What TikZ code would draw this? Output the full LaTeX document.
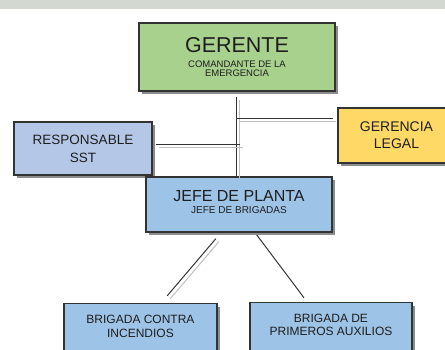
\documentclass[tikz,border=0pt]{standalone}
\usepackage{fontspec}
\setmainfont{Liberation Sans}
\usetikzlibrary{calc,shadows}
\definecolor{gerentegreen}{HTML}{A9D18E}
\definecolor{legalyellow}{HTML}{FFD966}
\definecolor{sstlavender}{HTML}{B4C7E7}
\definecolor{plantablue}{HTML}{9DC3E6}
\definecolor{edge}{HTML}{333333}
\definecolor{shade}{HTML}{8C8C8C}
\definecolor{linkshade}{HTML}{BFBFBF}
\definecolor{watermark}{HTML}{D3D9D0}
\definecolor{ink}{HTML}{1E1E1E}
\newcommand{\fsz}[1]{\fontsize{#1}{1.15\dimexpr #1pt\relax}\selectfont}

\begin{document}
\begin{tikzpicture}[
  x=1pt, y=-1pt, text=ink,
  box/.style={draw=edge, line width=1.2pt, inner sep=0pt, align=center,
    drop shadow={shadow xshift=3pt, shadow yshift=-3pt, fill=shade, opacity=1}},
  topbox/.style={box, anchor=north, inner ysep=12pt, text depth=40pt},
  link/.style={draw=edge, line width=1pt},
  shadedlink/.style={link, preaction={draw=linkshade, line width=1pt,
    transform canvas={xshift=3pt, yshift=-3pt}}}
]
  \useasboundingbox (0,0) rectangle (445,349);
  \fill[watermark] (0,0) rectangle (445,9);

  \node[box, fill=gerentegreen, minimum width=196, minimum height=68, font=\fsz{9.5}] (gerente) at (237,57)
    {{\fsz{21.5}GERENTE}\\[4pt]COMANDANTE DE LA\\[-1.5pt]EMERGENCIA};
  \node[box, fill=legalyellow, minimum width=117, minimum height=55, font=\fsz{14}] (legal) at (396.5,135.5)
    {GERENCIA\\[1pt]LEGAL};
  \node[box, fill=sstlavender, minimum width=138, minimum height=53, font=\fsz{13.5}] (sst) at (83,148.5)
    {RESPONSABLE\\[2.5pt]SST};
  \node[box, fill=plantablue, minimum width=186, minimum height=55, font=\fsz{10}, text depth=6pt] (jefe) at (239,204.5)
    {{\fsz{16}JEFE DE PLANTA}\\[0.5pt]JEFE DE BRIGADAS};
  \node[topbox, fill=plantablue, minimum width=153, font=\fsz{12}] (incendios) at (140.5,303)
    {BRIGADA CONTRA\\INCENDIOS};
  \node[topbox, fill=plantablue, minimum width=162, font=\fsz{12}] (auxilios) at (331,302)
    {BRIGADA DE\\[-1.5pt]PRIMEROS AUXILIOS};

  % trunk from the manager down to the plant chief, with two side taps
  \coordinate (trunktop) at (236.7,97);
  \coordinate (legaltap) at (236.7,118.7);
  \coordinate (ssttap) at (240,144.3);
  \draw[shadedlink] (trunktop) -- (trunktop |- jefe.north);
  \draw[shadedlink, shorten >=4pt] (legaltap) -- (legaltap -| legal.west);
  \draw[shadedlink, shorten >=3pt] (ssttap) -- (ssttap -| sst.east);

  \draw[shadedlink, shorten <=8pt, shorten >=9.5pt]
    ($(jefe.south)+(-18,0)$) -- ($(incendios.north)+(20.6,0)$);
  \draw[link, shorten <=2.9pt, shorten >=5.4pt]
    ($(jefe.south)+(16,0)$) -- ($(auxilios.north)+(-23.8,0)$);
\end{tikzpicture}
\end{document}
